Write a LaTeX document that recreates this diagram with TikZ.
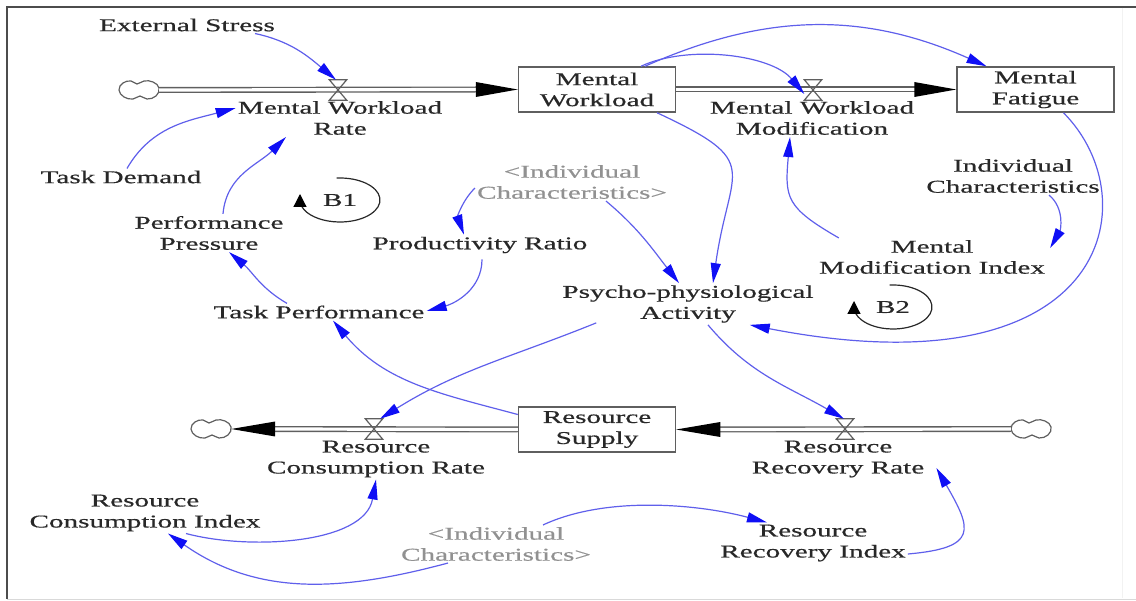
\documentclass[tikz,border=0pt]{standalone}
\usepackage{fontspec}
\setmainfont{Liberation Serif}[FakeStretch=1.62,FakeBold=0.6]
\usetikzlibrary{arrows.meta}
\definecolor{txt}{RGB}{40,40,40}
\definecolor{gtxt}{RGB}{145,145,145}
\definecolor{lblue}{RGB}{95,95,235}
\definecolor{ablue}{RGB}{15,15,245}
\definecolor{pipec}{RGB}{95,95,95}
\newcommand\vcloud[1]{\draw[draw=pipec, line width=1.2pt, shift={(#1.center)}] plot[smooth cycle, tension=0.75] coordinates {(-20,0) (-16,7) (-8,9) (-2,6) (5,9) (14,8) (20,2) (17,-6) (8,-9) (1,-6) (-6,-9) (-15,-7)};}
\begin{document}
\begin{tikzpicture}[x=1pt,y=1pt,
  lbl/.style={align=center, inner sep=2pt, text=txt, font=\fontsize{18}{21}\selectfont},
  glbl/.style={lbl, text=gtxt},
  stock/.style={lbl, draw=pipec, line width=1.5pt, minimum width=157pt, minimum height=45pt, inner sep=0pt},
  valvept/.style={minimum width=17pt, minimum height=20pt, inner sep=0pt},
  valveline/.style={draw=pipec, line width=1.2pt, line join=miter},
  cloudn/.style={minimum width=40pt, minimum height=18pt, inner sep=0pt},
  pipe/.style={draw=pipec, line width=1.4pt, double=white, double distance=3.2pt},
  link/.style={draw=lblue, line width=1.2pt, -{Triangle[length=20pt,width=10pt,color=ablue,fill=ablue]}},
  loopl/.style={draw=txt, line width=1.2pt, -{Triangle[length=13pt,width=13pt,color=black,fill=black]}},
]
\useasboundingbox (0,0) rectangle (1136,-601);
% frame
\draw[gray!60!black, line width=1.8pt] (1136,-7) -- (7,-7) -- (7,-599);
\draw[gray!30, line width=1pt] (7,-599) -- (1136,-599);
\draw[gray!10, line width=1pt] (1122,-8) -- (1122,-598);

% nodes
\node[lbl] (es) at (187,-25) {External Stress};
\node[cloudn] (c1) at (139,-90) {};
\node[stock] (mw) at (597,-89.5) {Mental\\Workload};
\node[stock] (mf) at (1035.5,-89.5) {Mental\\Fatigue};
\node[valvept] (v1) at (338,-90) {};
\node[valvept] (v2) at (813,-90) {};
\node[lbl] (mwr) at (340,-118) {Mental Workload\\Rate};
\node[lbl] (mwm) at (812,-118) {Mental Workload\\Modification};
\node[lbl] (td) at (121,-177) {Task Demand};
\node[lbl] (pp) at (209,-233) {Performance\\Pressure};
\node[lbl] (b1) at (340,-200) {B1};
\node[glbl] (ic1) at (572,-182) {<Individual\\Characteristics>};
\node[lbl] (prr) at (480,-245) {Productivity Ratio};
\node[lbl] (ic2) at (1013,-176) {Individual\\Characteristics};
\node[lbl] (mmi) at (932,-257) {Mental\\Modification Index};
\node[lbl] (b2) at (893,-307) {B2};
\node[lbl] (tp) at (319,-312) {Task Performance};
\node[lbl] (ps) at (688,-304) {Psycho-physiological\\Activity};
\node[stock] (rs) at (597,-429.5) {Resource\\Supply};
\node[cloudn] (c2) at (211,-429) {};
\node[cloudn] (c3) at (1031,-429) {};
\node[valvept] (v3) at (374,-429) {};
\node[valvept] (v4) at (845,-429) {};
\node[lbl] (rcr) at (376,-459) {Resource\\Consumption Rate};
\node[lbl] (rrr) at (838,-459) {Resource\\Recovery Rate};
\node[lbl] (rci) at (145,-513) {Resource\\Consumption Index};
\node[glbl] (ic3) at (496,-544) {<Individual\\Characteristics>};
\node[lbl] (rri) at (813,-543) {Resource\\Recovery Index};

% clouds
\vcloud{c1}
\vcloud{c2}
\vcloud{c3}

% pipes
\draw[pipe] (c1.east) -- ([xshift=-40]mw.west);
\fill[black] ([xshift=-42,yshift=7.5]mw.west) -- (mw.west) -- ([xshift=-42,yshift=-7.5]mw.west) -- cycle;
\draw[pipe] (mw.east) -- ([xshift=-40]mf.west);
\fill[black] ([xshift=-42,yshift=7.5]mf.west) -- (mf.west) -- ([xshift=-42,yshift=-7.5]mf.west) -- cycle;
\draw[pipe] (rs.west) -- ([xshift=42]c2.east);
\fill[black] ([xshift=44,yshift=7.5]c2.east) -- (c2.east) -- ([xshift=44,yshift=-7.5]c2.east) -- cycle;
\draw[pipe] (c3.west) -- ([xshift=42]rs.east);
\fill[black] ([xshift=44,yshift=7.5]rs.east) -- (rs.east) -- ([xshift=44,yshift=-7.5]rs.east) -- cycle;

% valves
\foreach \v in {v1,v2,v3,v4}
  \draw[valveline] (\v.north west) -- (\v.north east) -- (\v.south west) -- (\v.south east) -- cycle;

% loops
\draw[loopl] ([shift={(95:40pt and 22pt)}]b1.center) arc[start angle=95, end angle=-180, x radius=40pt, y radius=22pt] -- ++(0pt,6pt);
\draw[loopl] ([shift={(95:39pt and 22pt)}]b2.center) arc[start angle=95, end angle=-180, x radius=39pt, y radius=22pt] -- ++(0pt,6pt);

% links
\draw[link] ([xshift=68]es.south) to[out=-12,in=140] ([xshift=-2]v1.north);
\draw[link] ([xshift=6]td.north) to[out=60,in=-165] ([yshift=10]mwr.west);
\draw[link] ([xshift=14]pp.north) to[out=85,in=-135] ([xshift=-54]mwr.south);
\draw[link] ([xshift=-32]tp.north) to[out=150,in=-40] ([xshift=20]pp.south);
\draw[link] ([xshift=2,yshift=-4]prr.south) to[out=-90,in=15] ([yshift=1]tp.east);
\draw[link] ([yshift=-6]ic1.west) to[out=-135,in=110] ([xshift=-16]prr.north);
\draw[link] ([xshift=34]ic1.south) to[out=-40,in=128] ([xshift=-9]ps.north);
\draw[link] ([xshift=60]mw.south) to[out=-25,in=82,looseness=1.7] ([xshift=25]ps.north);
\draw[link] ([xshift=48]mw.north) to[out=24,in=156] ([xshift=-49]mf.north);
\draw[link] ([xshift=44]mw.north) to[out=25,in=130,looseness=0.8] ([yshift=-4]v2.west);
\draw[link] ([xshift=22]mmi.north west) to[out=150,in=-95,looseness=1.4] ([xshift=-22]mwm.south);
\draw[link] ([xshift=36]ic2.south) to[out=-40,in=60] ([xshift=3,yshift=-10]mmi.north east);
\draw[link] ([xshift=28]mf.south) .. controls (1150,-200) and (1110,-395) .. ([xshift=-66]ps.south east);
\draw[link] ([xshift=36,yshift=2]ps.south west) to[out=-158,in=32] ([xshift=6]v3.north);
\draw[link] ([xshift=20]ps.south) to[out=-50,in=150] ([xshift=-1]v4.north);
\draw[link] ([yshift=15]rs.west) to[out=165,in=-50] ([xshift=14]tp.south);
\draw[link] ([xshift=41]rci.south) to[out=-15,in=-100,looseness=0.85] (rcr.south);
\draw[link] ([xshift=-48]ic3.south) to[out=-165,in=-35] ([xshift=23]rci.south);
\draw[link] ([xshift=47]ic3.north) to[out=25,in=165,looseness=0.8] ([xshift=-46]rri.north);
\draw[link] ([yshift=-11]rri.east) to[out=5,in=-60,looseness=2] ([xshift=10,yshift=-9]rrr.east);
\end{tikzpicture}
\end{document}
